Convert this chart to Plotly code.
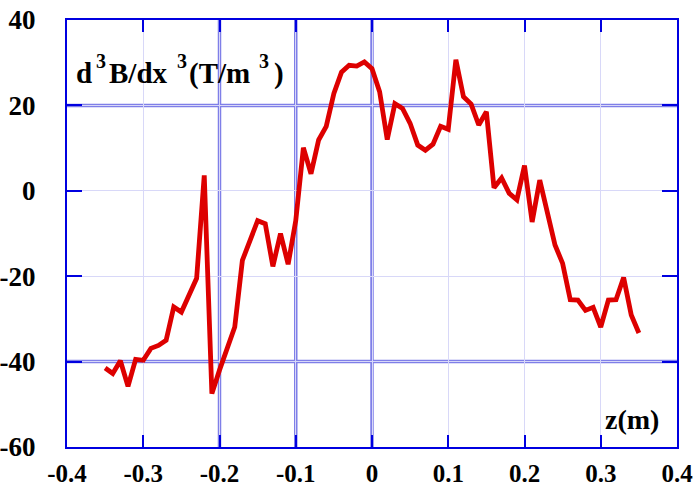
import plotly.graph_objects as go

z = [-0.35, -0.34, -0.33, -0.32, -0.31, -0.30, -0.29, -0.28, -0.27, -0.26,
     -0.25, -0.24, -0.23, -0.22, -0.21, -0.20, -0.19, -0.18, -0.17, -0.16,
     -0.15, -0.14, -0.13, -0.12, -0.11, -0.10, -0.09, -0.08, -0.07, -0.06,
     -0.05, -0.04, -0.03, -0.02, -0.01, 0.00, 0.01, 0.02, 0.03, 0.04,
     0.05, 0.06, 0.07, 0.08, 0.09, 0.10, 0.11, 0.12, 0.13, 0.14,
     0.15, 0.16, 0.17, 0.18, 0.19, 0.20, 0.21, 0.22, 0.23, 0.24,
     0.25, 0.26, 0.27, 0.28, 0.29, 0.30, 0.31, 0.32, 0.33, 0.34, 0.35]
d3B = [-41.5, -42.8, -39.8, -45.8, -39.5, -39.7, -36.9, -36.2, -35.0, -27.2,
       -28.4, -24.1, -20.5, 3.6, -47.5, -42.0, -36.6, -31.9, -16.3, -11.6,
       -7.0, -7.7, -17.7, -10.0, -17.2, -7.0, 10.1, 4.0, 11.9, 15.1,
       22.8, 27.8, 29.4, 29.2, 30.2, 28.6, 23.2, 12.0, 20.4, 19.3,
       15.8, 10.7, 9.5, 10.9, 15.1, 14.4, 30.7, 22.0, 20.3, 15.4,
       18.5, 0.7, 3.0, -0.6, -2.1, 5.9, -7.3, 2.5, -5.0, -12.7,
       -17.0, -25.5, -25.6, -28.0, -27.3, -31.9, -25.6, -25.5, -20.3, -29.1, -33.3]

x_ticks = [-0.4, -0.3, -0.2, -0.1, 0, 0.1, 0.2, 0.3, 0.4]
x_tick_text = ["-0.4", "-0.3", "-0.2", "-0.1", "0", "0.1", "0.2", "0.3", "0.4"]
y_ticks = [-60, -40, -20, 0, 20, 40]
y_tick_text = ["-60", "-40", "-20", "0", "20", "40"]
x_major_grid = [-0.2, -0.1, 0.0]
y_major_grid = [20, -40]

# y-axis label, split into normal pieces and superscript pieces
label_main = ["d", "B/dx", "(T/m", ")"]
label_sup = ["3", "3", "3"]

AXIS = "#0000E0"
THIN = "#D8D8F8"
THICK = "#7F7FE8"
FONT = "Liberation Serif"

W, H = 694, 487
ML, MR, MT, MB = 67, 17, 20, 40
PW, PH = W - ML - MR, H - MT - MB


def px(xp):
    return (xp - ML) / PW


def py(yp):
    return (H - MB - yp) / PH


fig = go.Figure()
fig.add_trace(go.Scatter(x=z, y=d3B, mode="lines",
                         line=dict(color="#DD0000", width=4.8),
                         showlegend=False))

shapes = []
for xv in x_major_grid:
    shapes.append(dict(type="line", xref="x", yref="paper", x0=xv, x1=xv, y0=0, y1=1,
                       line=dict(color=THICK, width=3.5), layer="between"))
for yv in y_major_grid:
    shapes.append(dict(type="line", xref="paper", yref="y", x0=0, x1=1, y0=yv, y1=yv,
                       line=dict(color=THICK, width=3.5), layer="between"))

annotations = []
main_left = [75, 108, 188, 273]
sup_left = [95, 176, 258]
for t, xl in zip(label_main, main_left):
    annotations.append(dict(text="<b>" + t + "</b>", xref="paper", yref="paper",
                            x=px(xl), y=py(73), xanchor="left", yanchor="middle",
                            showarrow=False, borderpad=0,
                            font=dict(family=FONT, size=29, color="black")))
for t, xl in zip(label_sup, sup_left):
    annotations.append(dict(text="<b>" + t + "</b>", xref="paper", yref="paper",
                            x=px(xl), y=py(61), xanchor="left", yanchor="middle",
                            showarrow=False, borderpad=0,
                            font=dict(family=FONT, size=20, color="black")))
annotations.append(dict(text="<b>z(m)</b>", xref="paper", yref="paper",
                        x=px(661), y=py(419), xanchor="right", yanchor="middle",
                        showarrow=False,
                        font=dict(family=FONT, size=28, color="black")))

fig.update_layout(
    width=W, height=H,
    margin=dict(l=ML, r=MR, t=MT, b=MB, autoexpand=False),
    paper_bgcolor="white", plot_bgcolor="white",
    shapes=shapes,
    annotations=annotations,
    font=dict(family=FONT, size=24, color="black"),
    xaxis=dict(range=[-0.4, 0.4], tickvals=x_ticks, ticktext=x_tick_text,
               showgrid=True, gridcolor=THIN, gridwidth=1,
               showline=True, linecolor=AXIS, linewidth=2, mirror="allticks",
               ticks="inside", ticklen=12, tickwidth=2, tickcolor=AXIS,
               zeroline=False, automargin=False, ticklabelstandoff=3,
               tickfont=dict(family=FONT, size=25, color="black", weight="bold")),
    yaxis=dict(range=[-60, 40], tickvals=y_ticks, ticktext=y_tick_text,
               showgrid=True, gridcolor=THIN, gridwidth=1,
               showline=True, linecolor=AXIS, linewidth=2, mirror="allticks",
               ticks="inside", ticklen=15, tickwidth=2, tickcolor=AXIS,
               zeroline=False, automargin=False, ticklabelstandoff=24,
               tickfont=dict(family=FONT, size=27, color="black", weight="bold")),
)

fig.write_html("out.html")
